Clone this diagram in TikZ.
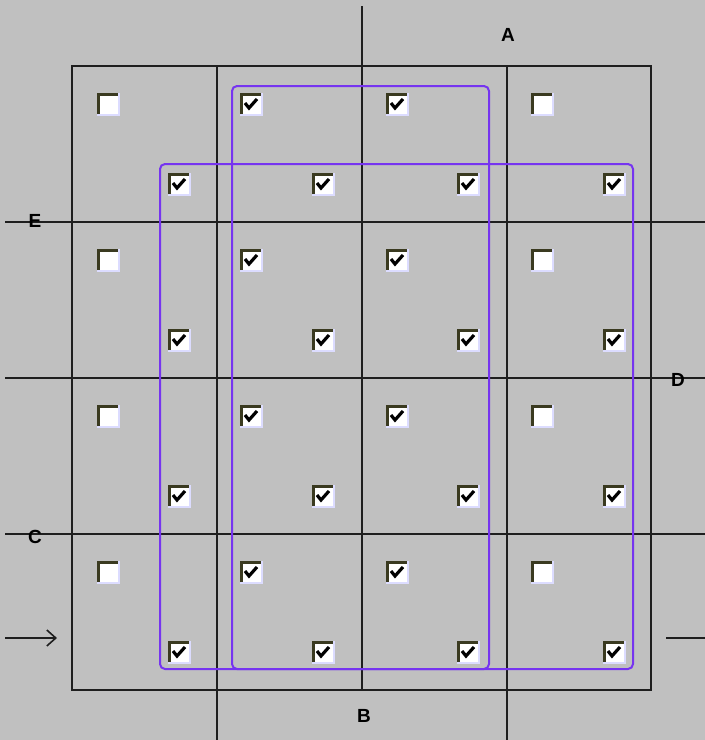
\documentclass[tikz,border=0pt]{standalone}
\usepackage{fontspec}
\setmainfont{Liberation Sans}
\usetikzlibrary{arrows.meta}
\definecolor{bg}{RGB}{192,192,192}
\definecolor{gridc}{RGB}{30,30,30}
\definecolor{violetc}{RGB}{118,52,240}
\definecolor{cbdark}{RGB}{58,58,32}
\definecolor{cblight}{RGB}{220,220,255}
\tikzset{
  gridline/.style={draw=gridc, line width=2pt},
  loopline/.style={draw=violetc, line width=2pt, rounded corners=5pt},
  varlabel/.style={font=\fontsize{19}{19}\selectfont\bfseries, text=black, inner sep=0pt},
  cb/.pic={
    \fill[white] (-11,-11) rectangle (11,11);
    \draw[cblight, line width=2pt] (-11,11) -- (11,11) -- (11,-11);
    \draw[cbdark, line width=3pt] (-10,10) -- (-10,-10) -- (10,-10);
  },
  cbc/.pic={
    \pic {cb};
    \draw[black, line width=3.2pt, line join=miter] (-6,-1) -- (-2,4) -- (6,-5);
  }
}
\begin{document}
\begin{tikzpicture}[x=1pt, y=-1pt]
\useasboundingbox (0,0) rectangle (705,740);
\fill[bg] (0,0) rectangle (705,740);
% grid
\draw[gridline] (72,66) rectangle (651,690);
\foreach \x in {217,362,507} \draw[gridline] (\x,66) -- (\x,690);
\foreach \y in {222,378,534} \draw[gridline] (72,\y) -- (651,\y);
% extensions
\draw[gridline] (362,6) -- (362,66);
\draw[gridline] (217,690) -- (217,740);
\draw[gridline] (507,690) -- (507,740);
\foreach \y in {222,378,534} {
  \draw[gridline] (5,\y) -- (72,\y);
  \draw[gridline] (651,\y) -- (705,\y);
}
% labels
\node[varlabel] (lA) at (508,35) {A};
\node[varlabel] (lE) at (35,221) {E};
\node[varlabel] (lD) at (678,380) {D};
\node[varlabel] (lC) at (35,537) {C};
\node[varlabel] (lB) at (364,716) {B};
% arrows
\coordinate (inS) at (5,638);
\coordinate (inE) at (57,638);
\draw[draw=gridc, line width=1.8pt, -{Straight Barb[length=9pt,width=16pt,line width=1.6pt]}] (inS) -- (inE);
\coordinate (outS) at (666,638);
\coordinate (outE) at (705,638);
\draw[draw=gridc, line width=1.8pt] (outS) -- (outE);
% checkboxes
\foreach \cx/\lx in {72/107, 217/106, 362/106, 507/107} {
  \foreach \cy in {66,222,378,534} {
    \pic at (\cx+\lx,\cy+118) {cbc};
  }
}
\foreach \cy in {66,222,378,534} {
  \pic at (108,\cy+38) {cb};
  \pic at (251,\cy+38) {cbc};
  \pic at (397,\cy+38) {cbc};
  \pic at (542,\cy+38) {cb};
}
% loops
\draw[loopline] (232,86) rectangle (489,669);
\draw[loopline] (160,164) rectangle (633,669);
\end{tikzpicture}
\end{document}
